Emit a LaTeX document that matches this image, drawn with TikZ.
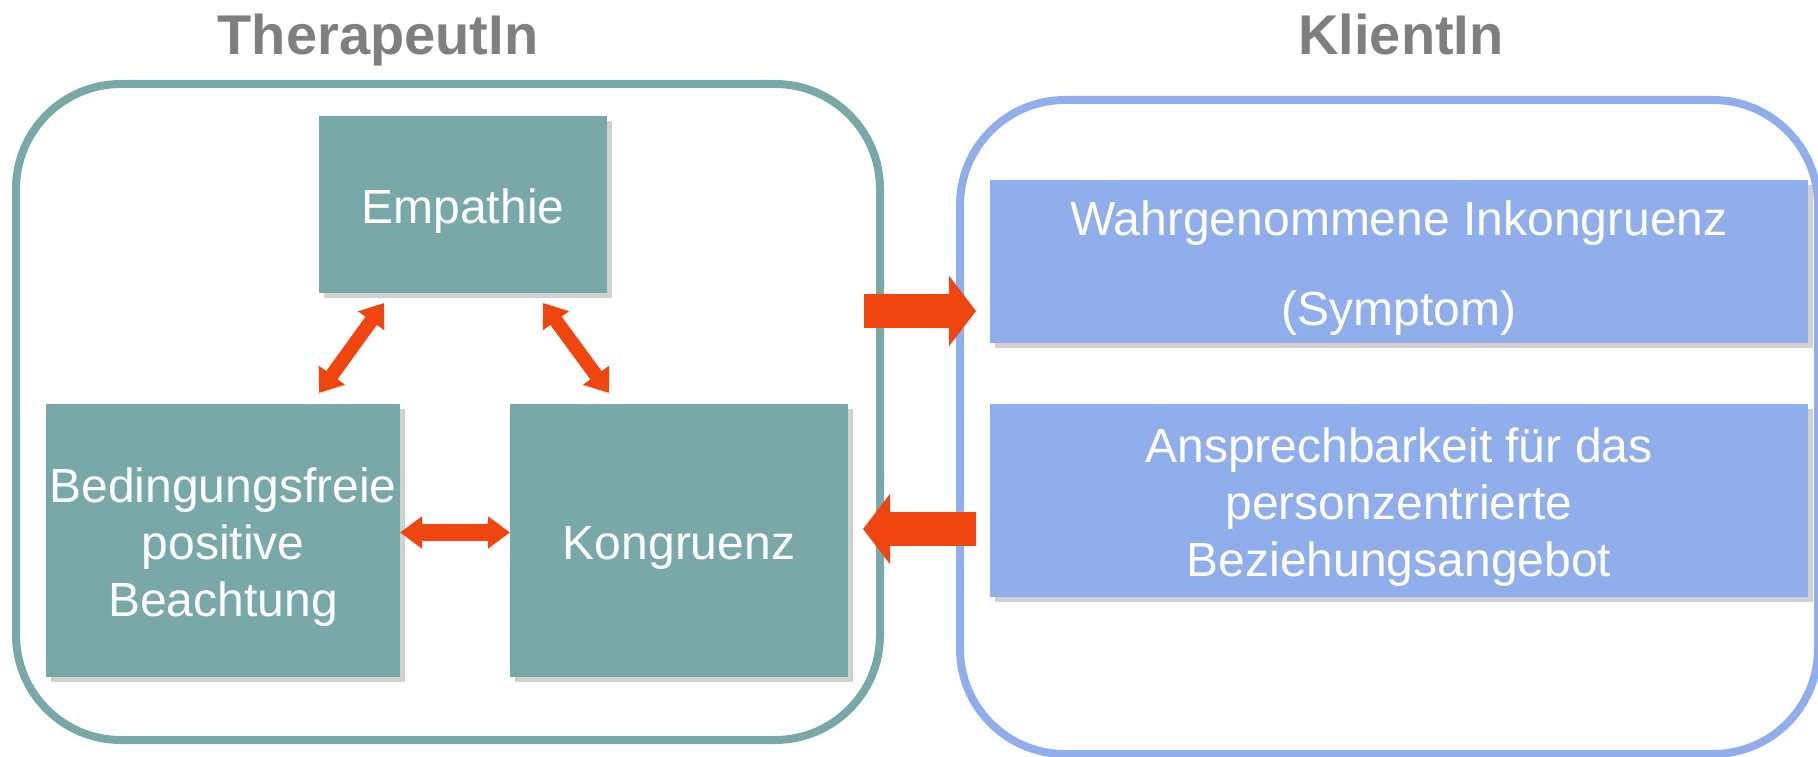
\documentclass[tikz,border=0pt]{standalone}
\usepackage{fontspec}
\setmainfont{Liberation Sans}
\usetikzlibrary{arrows.meta,shadows,calc}
\definecolor{tealfill}{HTML}{78A9A8}
\definecolor{bluefill}{HTML}{8FAEEB}
\definecolor{arrowred}{HTML}{F0450F}
\definecolor{titlegray}{HTML}{7F7F7F}
\newcommand{\topstrut}{\rule{0pt}{48pt}}
\begin{document}
\begin{tikzpicture}[x=1pt,y=-1pt,
  titletext/.style={text=titlegray, font=\fontsize{56}{60}\selectfont\bfseries, inner sep=0pt, anchor=base},
  container/.style={draw, line width=8pt, rounded corners=105pt, inner sep=0pt, outer sep=0pt},
  boxbase/.style={inner sep=0pt, outer sep=0pt, text=white, align=center,
    font=\fontsize{48}{57}\selectfont,
    drop shadow={shadow xshift=5pt, shadow yshift=-5pt, fill=black!45, opacity=0.4}},
  tealbox/.style={boxbase, fill=tealfill},
  bluebox/.style={boxbase, fill=bluefill},
  dblarrow/.style={draw=arrowred, line width=#1, {Triangle[length=22pt,width=31pt]}-{Triangle[length=22pt,width=31pt]}},
  blockarrow/.style={draw=arrowred, line width=34pt, -{Triangle[length=27pt,width=69pt]}}
]
\useasboundingbox (0,0) rectangle (1818,757);

% titles
\node[titletext] (tther) at (378,55) {TherapeutIn};
\node[titletext] (tkli) at (1401,55) {KlientIn};

% containers
\node[container, draw=tealfill, minimum width=864pt, minimum height=656pt] (ther) at (448,412) {};
\node[container, draw=bluefill, minimum width=858pt, minimum height=654pt] (kli) at (1389,427) {};

% therapist boxes
\node[tealbox, minimum width=288pt, minimum height=177pt] (emp) at (463,204.5) {\topstrut Empathie};
\node[tealbox, minimum width=354pt, minimum height=273pt] (bed) at (223,540.5) {\topstrut Bedingungsfreie\\positive\\Beachtung};
\node[tealbox, minimum width=338pt, minimum height=273pt] (kon) at (679,540.5) {\topstrut Kongruenz};

% client boxes
\node[bluebox, minimum width=818pt, minimum height=163pt, font=\fontsize{48}{90}\selectfont] (wahr) at (1399,261.5) {\topstrut Wahrgenommene Inkongruenz\\(Symptom)};
\node[bluebox, minimum width=818pt, minimum height=193pt] (ansp) at (1399,500.5) {\topstrut Ansprechbarkeit für das\\personzentrierte\\Beziehungsangebot};

% double arrows inside therapist container
\draw[dblarrow=14pt] ($(emp.south west)+(65,10)$) -- ($(bed.north east)+(-81,-11)$);
\draw[dblarrow=14pt] ($(emp.south east)+(-64,10)$) -- ($(kon.north west)+(99,-11)$);
\draw[dblarrow=17pt] ($(bed.east)+(0,-8)$) -- ($(kon.west)+(0,-8)$);

% block arrows between containers
\coordinate (r1) at ($(ther.east)+(-16,-101)$);
\coordinate (r2) at ($(wahr.west)+(-14,49.5)$);
\draw[blockarrow] (r1) -- (r2);
\coordinate (l1) at ($(ansp.west)+(-14,28.5)$);
\coordinate (l2) at ($(ther.east)+(-17,117)$);
\draw[blockarrow] (l1) -- (l2);
\end{tikzpicture}
\end{document}
